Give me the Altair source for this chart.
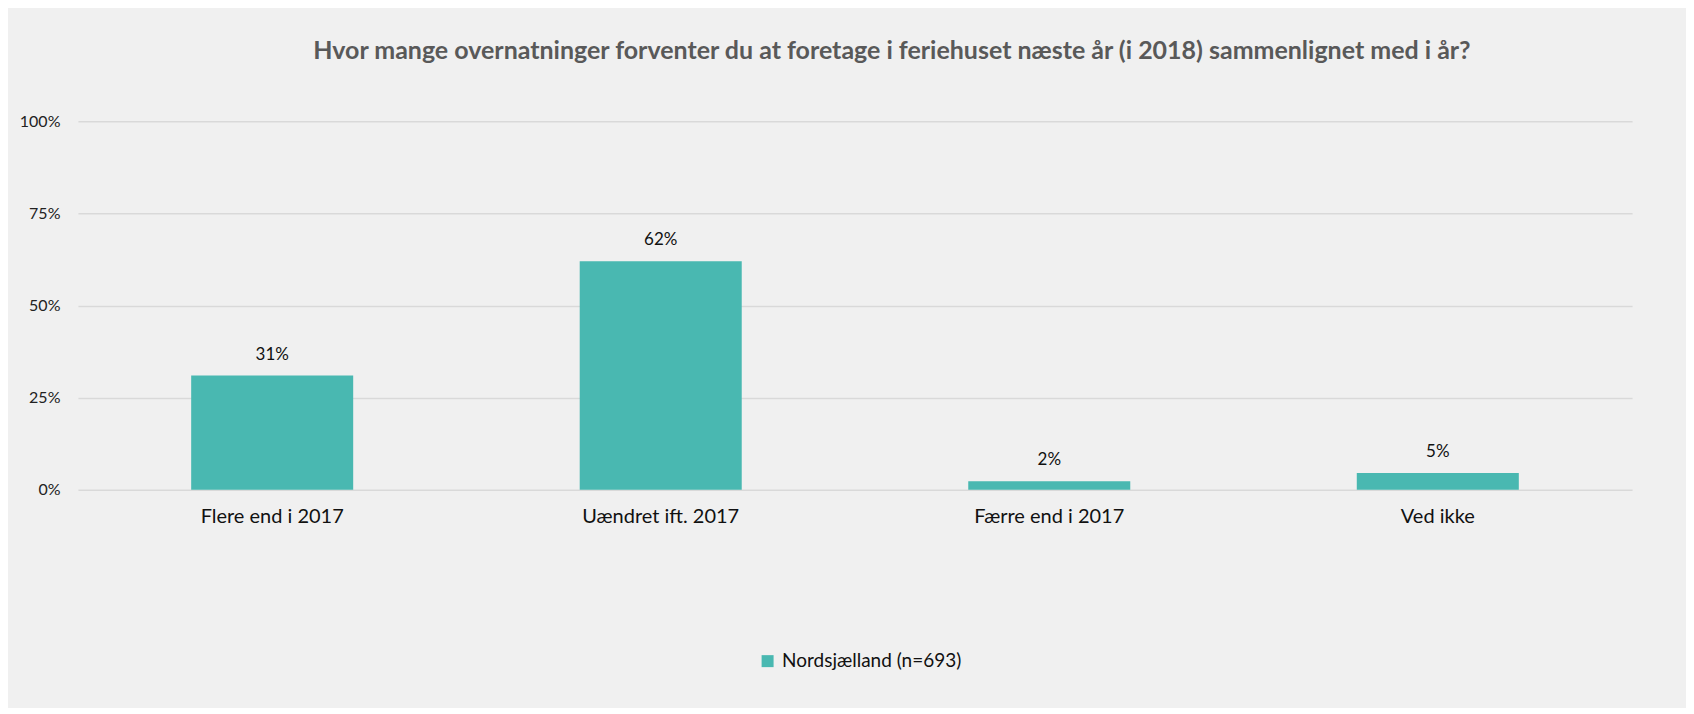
import altair as alt
import pandas as pd

categories = ["Flere end i 2017", "Uændret ift. 2017", "Færre end i 2017", "Ved ikke"]
values = [0.31, 0.62, 0.023, 0.046]
series_name = "Nordsjælland (n=693)"
y_ticks = [0, 0.25, 0.5, 0.75, 1.0]
title_text = "Hvor mange overnatninger forventer du at foretage i feriehuset næste år (i 2018) sammenlignet med i år?"

df = pd.DataFrame({"kategori": categories, "andel": values, "serie": [series_name] * len(categories)})

FONT = "Lato"
BAR = "#49B8B1"

x = alt.X(
    "kategori:N", sort=categories, title=None,
    scale=alt.Scale(paddingInner=0.583, paddingOuter=0.2915),
    axis=alt.Axis(labelAngle=0, labelFontSize=20, labelColor="#111111", labelPadding=17,
                  ticks=False, domain=False, grid=False, labelFont=FONT, labelLimit=0),
)
y = alt.Y(
    "andel:Q", title=None, scale=alt.Scale(domain=[0, 1]),
    axis=alt.Axis(values=y_ticks, format=".0%", labelFontSize=16, labelColor="#222222",
                  labelFont=FONT, labelPadding=18, ticks=False, domain=False,
                  grid=True, gridColor="#D9D9D9", gridWidth=1.5),
)

base = alt.Chart(df)
bars = base.mark_bar(color=BAR).encode(
    x=x, y=y,
    color=alt.Color("serie:N", scale=alt.Scale(range=[BAR]),
                    legend=alt.Legend(title=None, orient="none", legendX=681, legendY=531,
                                      symbolType="square", symbolSize=144, symbolStrokeWidth=0,
                                      labelFontSize=19, labelFont=FONT, labelColor="#111111",
                                      labelLimit=0, labelOffset=5)),
)
labels = base.mark_text(dy=-21, fontSize=17, font=FONT, color="#111111", baseline="middle").encode(
    x=alt.X("kategori:N", sort=categories),
    y=alt.Y("andel:Q"),
    text=alt.Text("andel:Q", format=".0%"),
)

chart = (bars + labels).properties(
    width=1556, height=369,
    title=alt.Title(title_text, fontSize=25, font=FONT, fontWeight="bold", color="#595959",
                    anchor="middle", dx=37, offset=49),
    background="#F0F0F0",
    padding={"left": 70, "top": 113, "right": 54, "bottom": 218},
    autosize=alt.AutoSizeParams(type="none"),
).configure_view(strokeWidth=0)

chart.save("out.html", embed_options={"renderer": "svg", "actions": False})
